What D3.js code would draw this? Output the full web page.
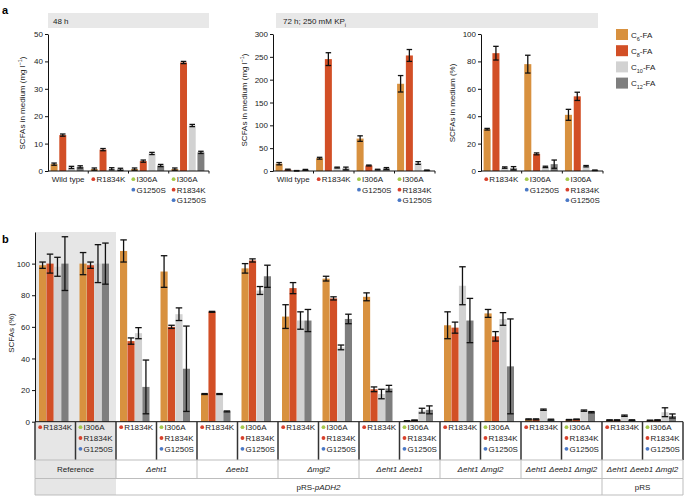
<!DOCTYPE html>
<html><head><meta charset="utf-8">
<script src="https://cdn.jsdelivr.net/npm/d3@7"></script>
<style>body{margin:0;background:#fff} svg{font-family:"Liberation Sans",Arial,Helvetica,sans-serif}</style>
</head><body><svg id="c" width="685" height="496"></svg>
<script>
// ---------- DATA ----------
const fattyAcids = ["C6", "C8", "C10", "C12"];
const mutColors = { R1834K: "#d8402c", I306A: "#a6c94c", G1250S: "#4a78c6" };

// panel a, 48 h (mg/l)
const a48Labels = [["Wild type"], ["R1834K"], ["I306A", "G1250S"], ["I306A", "R1834K", "G1250S"]];
const a48_C6 = [2.5, 0.7, 0.7, 0.7];
const a48_C8 = [13.1, 7.8, 3.6, 39.6];
const a48_C10 = [1.3, 0.8, 6.4, 16.6];
const a48_C12 = [1.5, 0.6, 2.0, 6.8];
const a48_err = [0.4, 0.4, 0.4, 0.4];

// panel a, 72 h; 250 mM KPi (mg/l)
const a72Labels = a48Labels;
const a72_C6 = [16, 28, 71, 191];
const a72_C6err = [2.5, 2, 6, 18];
const a72_C8 = [3, 245, 12, 253];
const a72_C8err = [1, 14, 1, 13];
const a72_C10 = [0.5, 7.5, 3, 17.5];
const a72_C10err = [0.5, 1, 0.8, 3];
const a72_C12 = [2.5, 5.5, 5.5, 1.5];
const a72_C12err = [1, 3, 2, 0.5];

// panel a, 72 h percentage
const aPctLabels = [["R1834K"], ["I306A", "G1250S"], ["I306A", "R1834K", "G1250S"]];
const aPct_C6 = [30.5, 78, 41];
const aPct_C6err = [0.6, 6.5, 4];
const aPct_C8 = [86, 12.5, 54.5];
const aPct_C8err = [5, 0.7, 3];
const aPct_C10 = [2.5, 3, 3.5];
const aPct_C10err = [0.5, 0.5, 0.5];
const aPct_C12 = [2, 5, 0.5];
const aPct_C12err = [1.2, 3, 0.2];

// panel b (% of reference)
const bLabels = d3.range(16).map(i => i % 2 === 0 ? ["R1834K"] : ["I306A", "R1834K", "G1250S"]);
const b_C6 = [99, 100, 108, 95, 17.5, 97, 66.5, 90.5, 79, 0.4, 61, 68.5, 1.5, 1.2, 1, 0.8];
const b_C6err = [2, 7, 7, 10, 0.3, 3, 7.5, 1.5, 2.5, 0.2, 8.5, 2.5, 0.3, 0.2, 0.2, 0.2];
const b_C8 = [100, 99, 51, 60, 69.5, 102, 84.5, 78, 20.5, 0.9, 59.5, 54, 1.5, 1.5, 1, 1];
const b_C8err = [6, 2, 2, 1, 0.3, 1, 3.5, 1, 1.5, 0.2, 3.5, 3, 0.3, 0.2, 0.2, 0.2];
const b_C10 = [98, 100, 56, 68, 17.5, 83, 64, 47, 17.5, 7, 86, 65, 7.6, 7, 3.8, 6];
const b_C10err = [6, 12, 3.5, 4, 0.3, 2.5, 5.5, 1.5, 3, 1.5, 12, 4, 0.4, 0.4, 0.4, 2.8];
const b_C12 = [100, 100, 22, 33.5, 6.5, 92, 64, 65, 21, 7.5, 64, 35, 1.3, 6, 1, 3.6];
const b_C12err = [17, 13, 17, 27, 0.3, 7, 7, 3, 2, 2.5, 14, 30, 0.3, 0.4, 0.2, 1.3];
const strainNames = ["Reference", "Δeht1", "Δeeb1", "Δmgl2", "Δeht1 Δeeb1", "Δeht1 Δmgl2", "Δeht1 Δeeb1 Δmgl2", "Δeht1 Δeeb1 Δmgl2"];

const yTicksA48 = [0, 10, 20, 30, 40, 50];
const yTicksA72 = [0, 50, 100, 150, 200, 250, 300];
const yTicksPct = [0, 20, 40, 60, 80, 100];
const yTicksB = [0, 20, 40, 60, 80, 100];

// ---------- STYLE ----------
const barColors = ["#d8913f", "#d24f26", "#d2d2d2", "#7e7e7e"];
const svg = d3.select("#c");
const FS = 8;

function flat(vals, errs) {
  const out = [];
  vals.forEach((arr, s) => arr.forEach((v, i) => out.push({ s, i, v, e: errs[s][i] })));
  return out;
}

function drawBars(g, xg, y, data, innerRange, pad, capW) {
  const xi = d3.scaleBand().domain(d3.range(4)).range(innerRange).paddingInner(pad);
  const bw = xi.bandwidth();
  g.append("g").selectAll("rect").data(data).join("rect")
    .attr("x", d => xg(d.i) + xi(d.s)).attr("y", d => y(d.v))
    .attr("width", bw).attr("height", d => y(0) - y(d.v))
    .attr("fill", d => barColors[d.s]);
  const eg = g.append("g").attr("stroke", "#111").attr("stroke-width", 1.3).attr("fill", "none");
  const cx = d => xg(d.i) + xi(d.s) + bw / 2;
  eg.selectAll("line.v").data(data).join("line").attr("class", "v")
    .attr("x1", cx).attr("x2", cx)
    .attr("y1", d => y(Math.max(0, d.v - d.e))).attr("y2", d => y(d.v + d.e));
  eg.selectAll("line.t").data(data).join("line").attr("class", "t")
    .attr("x1", d => cx(d) - capW / 2).attr("x2", d => cx(d) + capW / 2)
    .attr("y1", d => y(d.v + d.e)).attr("y2", d => y(d.v + d.e));
  eg.selectAll("line.b").data(data).join("line").attr("class", "b")
    .attr("x1", d => cx(d) - capW / 2).attr("x2", d => cx(d) + capW / 2)
    .attr("y1", d => y(Math.max(0, d.v - d.e))).attr("y2", d => y(Math.max(0, d.v - d.e)));
}

function yAxis(g, y, ticks, x) {
  const ax = g.append("g").attr("transform", `translate(${x},0)`)
    .call(d3.axisLeft(y).tickValues(ticks).tickSize(3).tickSizeOuter(0).tickPadding(2));
  ax.selectAll("text").attr("font-size", FS).attr("fill", "#222").style("font-family", "Liberation Sans, Arial");
  ax.selectAll("line,path").attr("stroke", "#111");
  return ax;
}

function groupLabel(g, cxp, y0, lines, lh) {
  const lg = g.append("g");
  const items = [];
  lines.forEach((t, k) => {
    const hasDot = mutColors[t] !== undefined;
    const c = hasDot ? lg.append("circle").attr("r", 1.9).attr("fill", mutColors[t]).attr("cy", y0 + k * lh - 2.8) : null;
    const tx = lg.append("text").attr("y", y0 + k * lh).attr("font-size", FS).attr("fill", "#222").text(t);
    items.push({ c, tx, hasDot });
  });
  let maxW = 0;
  items.forEach(it => { it.w = it.tx.node().getComputedTextLength() + (it.hasDot ? 5 : 0); maxW = Math.max(maxW, it.w); });
  const left = cxp - maxW / 2;
  items.forEach(it => {
    if (it.hasDot) { it.c.attr("cx", left + 1.9); it.tx.attr("x", left + 5); }
    else it.tx.attr("x", cxp).attr("text-anchor", "middle");
  });
}

function yTitle(g, x, yc, parts) {
  const t = g.append("text").attr("transform", `translate(${x},${yc}) rotate(-90)`)
    .attr("text-anchor", "middle").attr("font-size", FS).attr("fill", "#222");
  parts.forEach(p => {
    const ts = t.append("tspan").text(p.t);
    if (p.sup) ts.attr("baseline-shift", "super").attr("font-size", 5.5);
  });
}

function panelA(opt) {
  const g = svg.append("g");
  const n = opt.labels.length;
  const xg = d3.scaleBand().domain(d3.range(n)).range([opt.x0, opt.x1]);
  const y = d3.scaleLinear().domain([0, opt.max]).range([171, 34]);
  drawBars(g, xg, y, flat(opt.vals, opt.errs), [2.6, xg.bandwidth() - 4.6], 0.2, 5.5);
  yAxis(g, y, opt.ticks, opt.x0);
  // x axis with group separators
  g.append("line").attr("x1", opt.x0).attr("x2", opt.x1).attr("y1", y(0)).attr("y2", y(0)).attr("stroke", "#111");
  g.selectAll("line.sep").data(d3.range(1, n + 1)).join("line").attr("class", "sep")
    .attr("x1", i => opt.x0 + i * xg.bandwidth()).attr("x2", i => opt.x0 + i * xg.bandwidth())
    .attr("y1", y(0)).attr("y2", y(0) + 2.5).attr("stroke", "#111");
  opt.labels.forEach((lines, i) => groupLabel(g, xg(i) + xg.bandwidth() / 2, 182, lines, 10.5));
  yTitle(g, opt.titleX, opt.titleY, opt.title);
}

// panel letters
svg.append("text").attr("x", 2).attr("y", 14).attr("font-size", 11).attr("font-weight", "bold").text("a");
svg.append("text").attr("x", 2).attr("y", 243).attr("font-size", 11).attr("font-weight", "bold").text("b");

// headers
svg.append("rect").attr("x", 48).attr("y", 13).attr("width", 161).attr("height", 15).attr("fill", "#e8e8e8");
svg.append("text").attr("x", 53).attr("y", 23.5).attr("font-size", FS).attr("fill", "#222").text("48 h");
svg.append("rect").attr("x", 276).attr("y", 13).attr("width", 322).attr("height", 15).attr("fill", "#e8e8e8");
const h2 = svg.append("text").attr("x", 283).attr("y", 23.5).attr("font-size", FS).attr("fill", "#222");
h2.append("tspan").text("72 h; 250 mM KP");
h2.append("tspan").attr("baseline-shift", "sub").attr("font-size", 5.5).text("i");

panelA({ labels: a48Labels, x0: 48, x1: 209, max: 50, ticks: yTicksA48,
  vals: [a48_C6, a48_C8, a48_C10, a48_C12], errs: [a48_err, a48_err, a48_err, a48_err],
  titleX: 25, titleY: 103, title: [{ t: "SCFAs in medium (mg l" }, { t: "−1", sup: true }, { t: ")" }] });
panelA({ labels: a72Labels, x0: 273, x1: 435, max: 300, ticks: yTicksA72,
  vals: [a72_C6, a72_C8, a72_C10, a72_C12], errs: [a72_C6err, a72_C8err, a72_C10err, a72_C12err],
  titleX: 247, titleY: 100, title: [{ t: "SCFAs in medium (mg l" }, { t: "−1", sup: true }, { t: ")" }] });
panelA({ labels: aPctLabels, x0: 481, x1: 603, max: 100, ticks: yTicksPct,
  vals: [aPct_C6, aPct_C8, aPct_C10, aPct_C12], errs: [aPct_C6err, aPct_C8err, aPct_C10err, aPct_C12err],
  titleX: 455, titleY: 103, title: [{ t: "SCFAs in medium (%)" }] });

// legend
const lg = svg.append("g");
fattyAcids.forEach((f, k) => {
  const yy = 29 + k * 16.2;
  lg.append("rect").attr("x", 616).attr("y", yy).attr("width", 12).attr("height", 11).attr("fill", barColors[k]);
  const t = lg.append("text").attr("x", 631).attr("y", yy + 8.5).attr("font-size", FS).attr("fill", "#222");
  t.append("tspan").text("C");
  t.append("tspan").attr("baseline-shift", "sub").attr("font-size", 5.5).text(f.slice(1));
  t.append("tspan").text("-FA");
});

// ---------- panel b ----------
const gb = svg.append("g");
const bx0 = 35, bx1 = 683;
const xb = d3.scaleBand().domain(d3.range(16)).range([bx0, bx1]);
const yb = d3.scaleLinear().domain([0, 120]).range([421.7, 232]);
const gw = xb.bandwidth();
// reference background
gb.append("rect").attr("x", bx0).attr("y", 232).attr("width", 2 * gw).attr("height", 495 - 232).attr("fill", "#e6e6e6");
drawBars(gb, xb, yb, flat([b_C6, b_C8, b_C10, b_C12], [b_C6err, b_C8err, b_C10err, b_C12err]), [4, gw - 7], 0.04, 6.5);
yAxis(gb, yb, yTicksB, bx0);
gb.append("line").attr("x1", bx0).attr("x2", bx1).attr("y1", yb(0)).attr("y2", yb(0)).attr("stroke", "#111");
yTitle(gb, 14, 333, [{ t: "SCFAs (%)" }]);

// table
const rowY = [yb(0), 460, 478.5, 495];
// row 1 separators (dark)
gb.selectAll("line.r1").data(d3.range(0, 17)).join("line").attr("class", "r1")
  .attr("x1", k => bx0 + k * gw).attr("x2", k => bx0 + k * gw)
  .attr("y1", rowY[0]).attr("y2", rowY[1]).attr("stroke", "#333").attr("stroke-width", 1.5);
// horizontal light lines
gb.selectAll("line.h").data(rowY.slice(1)).join("line").attr("class", "h")
  .attr("x1", bx0).attr("x2", bx1).attr("y1", d => d).attr("y2", d => d).attr("stroke", "#bdbdbd").attr("stroke-width", 1);
// row 2 separators
gb.selectAll("line.r2").data(d3.range(0, 17, 2)).join("line").attr("class", "r2")
  .attr("x1", k => bx0 + k * gw).attr("x2", k => bx0 + k * gw)
  .attr("y1", rowY[1]).attr("y2", rowY[2]).attr("stroke", "#bdbdbd");
// row 3 separators
gb.selectAll("line.r3").data([0, 14, 16]).join("line").attr("class", "r3")
  .attr("x1", k => bx0 + k * gw).attr("x2", k => bx0 + k * gw)
  .attr("y1", rowY[2]).attr("y2", rowY[3]).attr("stroke", "#bdbdbd");

bLabels.forEach((lines, i) => groupLabel(gb, xb(i) + gw / 2, 430, lines, 10.8));
strainNames.forEach((s, k) => {
  gb.append("text").attr("x", bx0 + (2 * k + 1) * gw).attr("y", 472).attr("text-anchor", "middle")
    .attr("font-size", FS).attr("fill", "#222").attr("font-style", k === 0 ? "normal" : "italic").text(s);
});
const p1 = gb.append("text").attr("x", (bx0 + bx0 + 14 * gw) / 2).attr("y", 490).attr("text-anchor", "middle")
  .attr("font-size", FS).attr("fill", "#222");
p1.append("tspan").text("pRS-");
p1.append("tspan").attr("font-style", "italic").text("pADH2");
gb.append("text").attr("x", bx0 + 15 * gw).attr("y", 490).attr("text-anchor", "middle")
  .attr("font-size", FS).attr("fill", "#222").text("pRS");
</script></body></html>
